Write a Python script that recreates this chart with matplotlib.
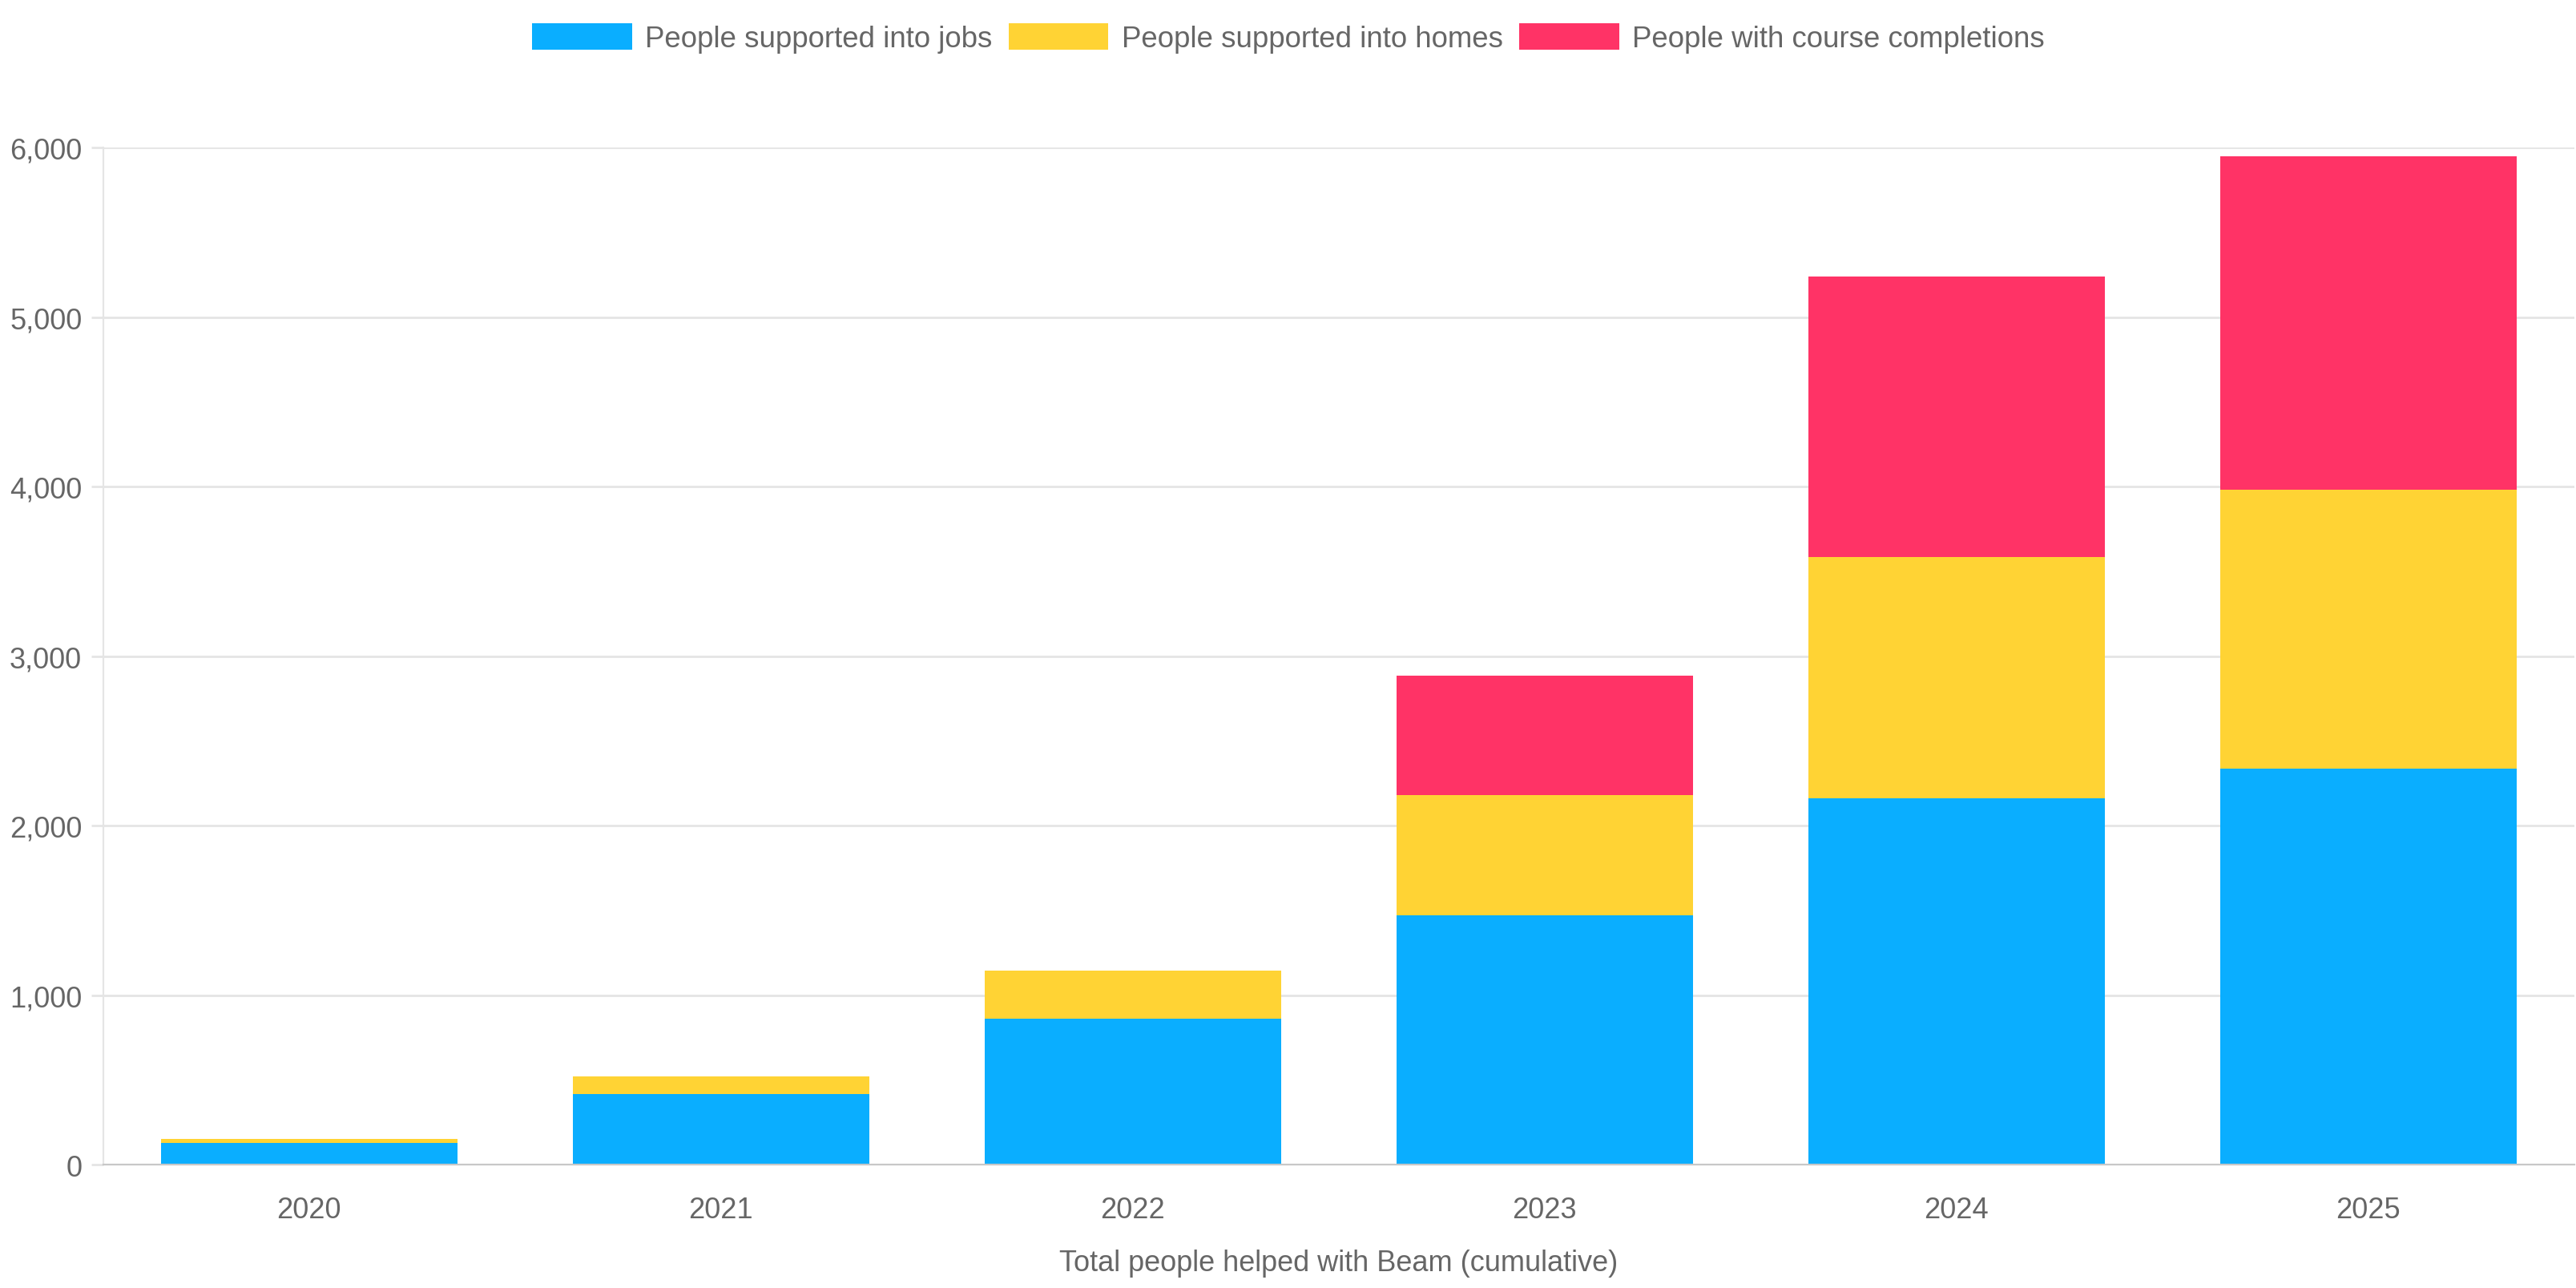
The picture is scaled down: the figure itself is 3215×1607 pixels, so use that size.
import matplotlib.pyplot as plt
from matplotlib.ticker import FuncFormatter, MultipleLocator

plt.rcParams["font.family"] = ["Liberation Sans", "DejaVu Sans"]

years = ["2020", "2021", "2022", "2023", "2024", "2025"]
jobs = [128, 417, 861, 1473, 2160, 2337]
homes = [25, 104, 286, 706, 1424, 1644]
courses = [0, 0, 0, 707, 1658, 1967]

labels = [
    "People supported into jobs",
    "People supported into homes",
    "People with course completions",
]
colors = ["#0AAEFF", "#FFD334", "#FF3366"]
text_color = "#666666"
grid_color = "#E5E5E5"
fs = 13.2

fig = plt.figure(figsize=(16.08, 8.04), dpi=200)
ax = fig.add_axes([0.040, 0.0957, 0.959, 0.789])

x = range(len(years))
bottom = [0] * len(years)
for series, label, color in zip([jobs, homes, courses], labels, colors):
    ax.bar(x, series, width=0.72, bottom=bottom, color=color, label=label, zorder=2)
    bottom = [b + v for b, v in zip(bottom, series)]

ax.set_xlim(-0.5, 5.5)
ax.set_ylim(0, 6000)
ax.set_xticks(list(x))
ax.set_xticklabels(years)
ax.yaxis.set_major_locator(MultipleLocator(1000))
ax.yaxis.set_major_formatter(FuncFormatter(lambda v, _: f"{int(v):,}"))

ax.grid(axis="y", color=grid_color, linewidth=1.0, zorder=0)
ax.tick_params(axis="x", length=0, pad=14, labelsize=13, labelcolor=text_color)
ax.tick_params(axis="y", length=5.5, width=1.0, color=grid_color, pad=4,
               labelsize=13, labelcolor=text_color)

for side in ["top", "right"]:
    ax.spines[side].set_visible(False)
ax.spines["left"].set_color(grid_color)
ax.spines["bottom"].set_color("#C8C8C8")
ax.spines["bottom"].set_zorder(3)

ax.set_xlabel("Total people helped with Beam (cumulative)", fontsize=13,
              color=text_color, labelpad=11)

fig.legend(loc="center", bbox_to_anchor=(0.5, 0.97), ncol=3, frameon=False,
           fontsize=fs, handlelength=3.4, handleheight=1.0, handletextpad=0.45,
           columnspacing=0.55, labelcolor=text_color)

fig.savefig("out.png", dpi=200)
